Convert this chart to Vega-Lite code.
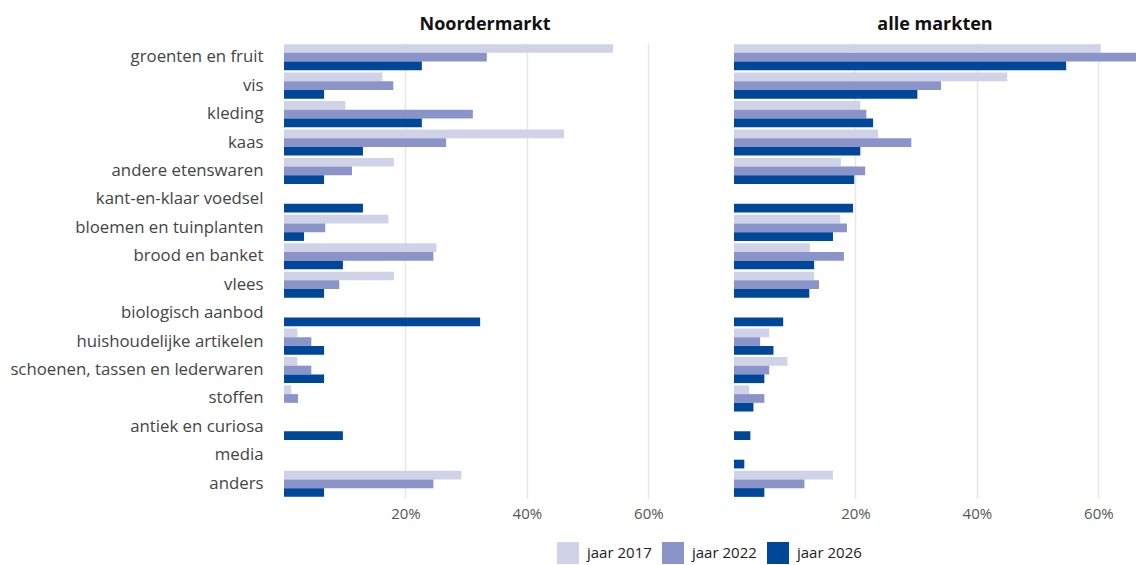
{
  "$schema": "https://vega.github.io/schema/vega-lite/v6.json",
  "padding": {"top": 16, "left": 9, "right": 2, "bottom": 0},
  "background": "white",
  "data": {"values": [
    {"markt": "Noordermarkt", "categorie": "groenten en fruit", "jaar": "jaar 2017", "pct": 0.542},
    {"markt": "Noordermarkt", "categorie": "groenten en fruit", "jaar": "jaar 2022", "pct": 0.334},
    {"markt": "Noordermarkt", "categorie": "groenten en fruit", "jaar": "jaar 2026", "pct": 0.227},
    {"markt": "Noordermarkt", "categorie": "vis", "jaar": "jaar 2017", "pct": 0.162},
    {"markt": "Noordermarkt", "categorie": "vis", "jaar": "jaar 2022", "pct": 0.180},
    {"markt": "Noordermarkt", "categorie": "vis", "jaar": "jaar 2026", "pct": 0.066},
    {"markt": "Noordermarkt", "categorie": "kleding", "jaar": "jaar 2017", "pct": 0.101},
    {"markt": "Noordermarkt", "categorie": "kleding", "jaar": "jaar 2022", "pct": 0.311},
    {"markt": "Noordermarkt", "categorie": "kleding", "jaar": "jaar 2026", "pct": 0.227},
    {"markt": "Noordermarkt", "categorie": "kaas", "jaar": "jaar 2017", "pct": 0.461},
    {"markt": "Noordermarkt", "categorie": "kaas", "jaar": "jaar 2022", "pct": 0.267},
    {"markt": "Noordermarkt", "categorie": "kaas", "jaar": "jaar 2026", "pct": 0.130},
    {"markt": "Noordermarkt", "categorie": "andere etenswaren", "jaar": "jaar 2017", "pct": 0.181},
    {"markt": "Noordermarkt", "categorie": "andere etenswaren", "jaar": "jaar 2022", "pct": 0.112},
    {"markt": "Noordermarkt", "categorie": "andere etenswaren", "jaar": "jaar 2026", "pct": 0.066},
    {"markt": "Noordermarkt", "categorie": "kant-en-klaar voedsel", "jaar": "jaar 2026", "pct": 0.130},
    {"markt": "Noordermarkt", "categorie": "bloemen en tuinplanten", "jaar": "jaar 2017", "pct": 0.172},
    {"markt": "Noordermarkt", "categorie": "bloemen en tuinplanten", "jaar": "jaar 2022", "pct": 0.068},
    {"markt": "Noordermarkt", "categorie": "bloemen en tuinplanten", "jaar": "jaar 2026", "pct": 0.033},
    {"markt": "Noordermarkt", "categorie": "brood en banket", "jaar": "jaar 2017", "pct": 0.251},
    {"markt": "Noordermarkt", "categorie": "brood en banket", "jaar": "jaar 2022", "pct": 0.246},
    {"markt": "Noordermarkt", "categorie": "brood en banket", "jaar": "jaar 2026", "pct": 0.097},
    {"markt": "Noordermarkt", "categorie": "vlees", "jaar": "jaar 2017", "pct": 0.181},
    {"markt": "Noordermarkt", "categorie": "vlees", "jaar": "jaar 2022", "pct": 0.091},
    {"markt": "Noordermarkt", "categorie": "vlees", "jaar": "jaar 2026", "pct": 0.066},
    {"markt": "Noordermarkt", "categorie": "biologisch aanbod", "jaar": "jaar 2026", "pct": 0.323},
    {"markt": "Noordermarkt", "categorie": "huishoudelijke artikelen", "jaar": "jaar 2017", "pct": 0.022},
    {"markt": "Noordermarkt", "categorie": "huishoudelijke artikelen", "jaar": "jaar 2022", "pct": 0.045},
    {"markt": "Noordermarkt", "categorie": "huishoudelijke artikelen", "jaar": "jaar 2026", "pct": 0.066},
    {"markt": "Noordermarkt", "categorie": "schoenen, tassen en lederwaren", "jaar": "jaar 2017", "pct": 0.022},
    {"markt": "Noordermarkt", "categorie": "schoenen, tassen en lederwaren", "jaar": "jaar 2022", "pct": 0.045},
    {"markt": "Noordermarkt", "categorie": "schoenen, tassen en lederwaren", "jaar": "jaar 2026", "pct": 0.066},
    {"markt": "Noordermarkt", "categorie": "stoffen", "jaar": "jaar 2017", "pct": 0.012},
    {"markt": "Noordermarkt", "categorie": "stoffen", "jaar": "jaar 2022", "pct": 0.023},
    {"markt": "Noordermarkt", "categorie": "antiek en curiosa", "jaar": "jaar 2026", "pct": 0.097},
    {"markt": "Noordermarkt", "categorie": "anders", "jaar": "jaar 2017", "pct": 0.292},
    {"markt": "Noordermarkt", "categorie": "anders", "jaar": "jaar 2022", "pct": 0.246},
    {"markt": "Noordermarkt", "categorie": "anders", "jaar": "jaar 2026", "pct": 0.066},
    {"markt": "alle markten", "categorie": "groenten en fruit", "jaar": "jaar 2017", "pct": 0.604},
    {"markt": "alle markten", "categorie": "groenten en fruit", "jaar": "jaar 2022", "pct": 0.662},
    {"markt": "alle markten", "categorie": "groenten en fruit", "jaar": "jaar 2026", "pct": 0.547},
    {"markt": "alle markten", "categorie": "vis", "jaar": "jaar 2017", "pct": 0.450},
    {"markt": "alle markten", "categorie": "vis", "jaar": "jaar 2022", "pct": 0.341},
    {"markt": "alle markten", "categorie": "vis", "jaar": "jaar 2026", "pct": 0.302},
    {"markt": "alle markten", "categorie": "kleding", "jaar": "jaar 2017", "pct": 0.208},
    {"markt": "alle markten", "categorie": "kleding", "jaar": "jaar 2022", "pct": 0.218},
    {"markt": "alle markten", "categorie": "kleding", "jaar": "jaar 2026", "pct": 0.229},
    {"markt": "alle markten", "categorie": "kaas", "jaar": "jaar 2017", "pct": 0.237},
    {"markt": "alle markten", "categorie": "kaas", "jaar": "jaar 2022", "pct": 0.292},
    {"markt": "alle markten", "categorie": "kaas", "jaar": "jaar 2026", "pct": 0.208},
    {"markt": "alle markten", "categorie": "andere etenswaren", "jaar": "jaar 2017", "pct": 0.176},
    {"markt": "alle markten", "categorie": "andere etenswaren", "jaar": "jaar 2022", "pct": 0.216},
    {"markt": "alle markten", "categorie": "andere etenswaren", "jaar": "jaar 2026", "pct": 0.198},
    {"markt": "alle markten", "categorie": "kant-en-klaar voedsel", "jaar": "jaar 2026", "pct": 0.196},
    {"markt": "alle markten", "categorie": "bloemen en tuinplanten", "jaar": "jaar 2017", "pct": 0.175},
    {"markt": "alle markten", "categorie": "bloemen en tuinplanten", "jaar": "jaar 2022", "pct": 0.186},
    {"markt": "alle markten", "categorie": "bloemen en tuinplanten", "jaar": "jaar 2026", "pct": 0.163},
    {"markt": "alle markten", "categorie": "brood en banket", "jaar": "jaar 2017", "pct": 0.125},
    {"markt": "alle markten", "categorie": "brood en banket", "jaar": "jaar 2022", "pct": 0.181},
    {"markt": "alle markten", "categorie": "brood en banket", "jaar": "jaar 2026", "pct": 0.132},
    {"markt": "alle markten", "categorie": "vlees", "jaar": "jaar 2017", "pct": 0.132},
    {"markt": "alle markten", "categorie": "vlees", "jaar": "jaar 2022", "pct": 0.140},
    {"markt": "alle markten", "categorie": "vlees", "jaar": "jaar 2026", "pct": 0.124},
    {"markt": "alle markten", "categorie": "biologisch aanbod", "jaar": "jaar 2026", "pct": 0.081},
    {"markt": "alle markten", "categorie": "huishoudelijke artikelen", "jaar": "jaar 2017", "pct": 0.058},
    {"markt": "alle markten", "categorie": "huishoudelijke artikelen", "jaar": "jaar 2022", "pct": 0.043},
    {"markt": "alle markten", "categorie": "huishoudelijke artikelen", "jaar": "jaar 2026", "pct": 0.065},
    {"markt": "alle markten", "categorie": "schoenen, tassen en lederwaren", "jaar": "jaar 2017", "pct": 0.088},
    {"markt": "alle markten", "categorie": "schoenen, tassen en lederwaren", "jaar": "jaar 2022", "pct": 0.058},
    {"markt": "alle markten", "categorie": "schoenen, tassen en lederwaren", "jaar": "jaar 2026", "pct": 0.050},
    {"markt": "alle markten", "categorie": "stoffen", "jaar": "jaar 2017", "pct": 0.025},
    {"markt": "alle markten", "categorie": "stoffen", "jaar": "jaar 2022", "pct": 0.050},
    {"markt": "alle markten", "categorie": "stoffen", "jaar": "jaar 2026", "pct": 0.032},
    {"markt": "alle markten", "categorie": "antiek en curiosa", "jaar": "jaar 2026", "pct": 0.027},
    {"markt": "alle markten", "categorie": "media", "jaar": "jaar 2026", "pct": 0.017},
    {"markt": "alle markten", "categorie": "anders", "jaar": "jaar 2017", "pct": 0.163},
    {"markt": "alle markten", "categorie": "anders", "jaar": "jaar 2022", "pct": 0.116},
    {"markt": "alle markten", "categorie": "anders", "jaar": "jaar 2026", "pct": 0.050}
  ]},
  "facet": {
    "column": {
      "field": "markt", "type": "nominal", "sort": ["Noordermarkt", "alle markten"],
      "title": null,
      "header": {"labelFontSize": 18, "labelFontWeight": "bold", "labelColor": "#111111", "labelFont": "Open Sans", "labelPadding": 9}
    }
  },
  "spacing": 48,
  "spec": {
    "width": 402,
    "height": 455,
    "mark": {"type": "bar"},
    "encoding": {
      "y": {
        "field": "categorie", "type": "nominal",
        "sort": ["groenten en fruit", "vis", "kleding", "kaas", "andere etenswaren", "kant-en-klaar voedsel", "bloemen en tuinplanten", "brood en banket", "vlees", "biologisch aanbod", "huishoudelijke artikelen", "schoenen, tassen en lederwaren", "stoffen", "antiek en curiosa", "media", "anders"],
        "scale": {"paddingInner": 0.08, "paddingOuter": 0.04},
        "axis": {"title": null, "domain": false, "ticks": false, "labelFont": "Open Sans", "labelFontSize": 16.8, "labelColor": "#444444", "labelPadding": 21, "labelLimit": 400}
      },
      "yOffset": {"field": "jaar", "type": "nominal", "sort": ["jaar 2017", "jaar 2022", "jaar 2026"], "scale": {"paddingInner": 0, "paddingOuter": 0}},
      "x": {
        "field": "pct", "type": "quantitative",
        "scale": {"domain": [0, 0.662], "nice": false, "zero": true},
        "axis": {"title": null, "values": [0.2, 0.4, 0.6], "format": ".0%", "domain": false, "ticks": false, "grid": true, "gridColor": "#e6e6e6", "gridWidth": 1.5, "labelFont": "Open Sans", "labelFontSize": 15, "labelColor": "#555555", "labelPadding": 8}
      },
      "color": {
        "field": "jaar", "type": "nominal",
        "scale": {"domain": ["jaar 2017", "jaar 2022", "jaar 2026"], "range": ["#d0d3e8", "#8a94c8", "#00479a"]},
        "legend": {"title": null, "orient": "none", "legendX": 273, "legendY": 499, "direction": "horizontal", "symbolType": "square", "symbolSize": 484, "symbolStrokeWidth": 0, "labelFont": "Open Sans", "labelFontSize": 15, "labelColor": "#222222", "columnPadding": 10, "labelOffset": 8}
      }
    }
  },
  "config": {"view": {"stroke": null}, "legend": {"symbolOpacity": 1}}
}
